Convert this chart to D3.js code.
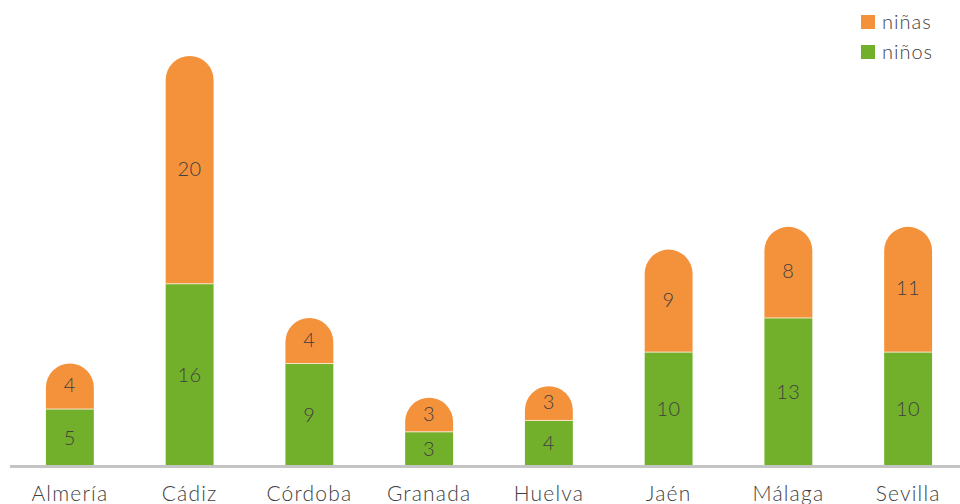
<!DOCTYPE html>
<html>
<head>
<meta charset="utf-8">
<script src="https://cdn.jsdelivr.net/npm/d3@7"></script>
<style>
  body { margin: 0; background: #fff; }
  text { font-family: Lato, "Open Sans", sans-serif; font-weight: 300; fill: #404040; letter-spacing: 0.6px; }
</style>
</head>
<body>
<div id="chart-area"></div>
<script>
var provincias = ["Almería", "Cádiz", "Córdoba", "Granada", "Huelva", "Jaén", "Málaga", "Sevilla"];
var ninos = [5, 16, 9, 3, 4, 10, 13, 10];
var ninas = [4, 20, 4, 3, 3, 9, 8, 11];
var series = ["niños", "niñas"];
var colores = ["#72b02c", "#f4923b"];

var width = 960, height = 504;
var baseY = 466;

var svg = d3.select("#chart-area").append("svg")
	.attr("width", width)
	.attr("height", height);

var x = d3.scaleBand()
	.domain(provincias)
	.range([10, 968])
	.paddingInner(0.6)
	.paddingOuter(0.3);

var y = d3.scaleLinear()
	.domain([0, 36])
	.range([baseY, 56]);

var data = provincias.map(function(p, i){
	return { prov: p, ninos: ninos[i], ninas: ninas[i] };
});

var bw = x.bandwidth();
var r = bw / 2;

// green part
svg.selectAll("rect.ninos")
	.data(data)
	.enter().append("rect")
		.attr("class", "ninos")
		.attr("x", function(d){ return x(d.prov); })
		.attr("y", function(d){ return y(d.ninos); })
		.attr("width", bw)
		.attr("height", function(d){ return baseY - y(d.ninos); })
		.attr("fill", colores[0]);

// orange part with rounded top
svg.selectAll("path.ninas")
	.data(data)
	.enter().append("path")
		.attr("class", "ninas")
		.attr("d", function(d){
			var x0 = x(d.prov), x1 = x0 + bw;
			var yb = y(d.ninos), yt = y(d.ninos + d.ninas);
			var rr = Math.min(r, yb - yt);
			return "M" + x0 + "," + yb +
				"L" + x0 + "," + (yt + rr) +
				"A" + r + "," + rr + " 0 0 1 " + x1 + "," + (yt + rr) +
				"L" + x1 + "," + yb + "Z";
		})
		.attr("fill", colores[1]);

// separator
svg.selectAll("line.sep")
	.data(data)
	.enter().append("line")
		.attr("x1", function(d){ return x(d.prov); })
		.attr("x2", function(d){ return x(d.prov) + bw; })
		.attr("y1", function(d){ return y(d.ninos); })
		.attr("y2", function(d){ return y(d.ninos); })
		.attr("stroke", "#f6e3c8")
		.attr("stroke-width", 1);

// value labels
svg.selectAll("text.vninos")
	.data(data)
	.enter().append("text")
		.attr("x", function(d){ return x(d.prov) + bw / 2; })
		.attr("y", function(d){ return (y(d.ninos) + baseY) / 2 + 7; })
		.attr("text-anchor", "middle")
		.attr("font-size", "20px")
		.text(function(d){ return d.ninos; });

svg.selectAll("text.vninas")
	.data(data)
	.enter().append("text")
		.attr("x", function(d){ return x(d.prov) + bw / 2; })
		.attr("y", function(d){ return (y(d.ninos) + y(d.ninos + d.ninas)) / 2 + 6; })
		.attr("text-anchor", "middle")
		.attr("font-size", "20px")
		.text(function(d){ return d.ninas; });

// baseline axis
var xAxis = d3.axisBottom(x).tickSize(0).tickPadding(20);
var ax = svg.append("g")
	.attr("transform", "translate(0," + baseY + ")")
	.call(xAxis);
ax.select(".domain").remove();
ax.selectAll("text")
	.attr("font-size", "21px")
	.style("font-family", "Lato, 'Open Sans', sans-serif")
	.style("font-weight", 300)
	.style("letter-spacing", "1.2px")
	.attr("fill", "#404040");

svg.append("line")
	.attr("x1", 10).attr("x2", 960)
	.attr("y1", baseY + 0.5).attr("y2", baseY + 0.5)
	.attr("stroke", "#c4c4c4")
	.attr("stroke-width", 3);

// legend
var legend = svg.append("g").attr("transform", "translate(861,15)");
var legItems = [{ name: series[1], color: colores[1] }, { name: series[0], color: colores[0] }];
var li = legend.selectAll("g")
	.data(legItems)
	.enter().append("g")
		.attr("transform", function(d, i){ return "translate(0," + (i * 30) + ")"; });
li.append("rect")
	.attr("width", 14).attr("height", 14)
	.attr("fill", function(d){ return d.color; });
li.append("text")
	.attr("x", 21).attr("y", 14)
	.attr("font-size", "20px")
	.style("letter-spacing", "1px")
	.text(function(d){ return d.name; });
</script>
</body>
</html>
